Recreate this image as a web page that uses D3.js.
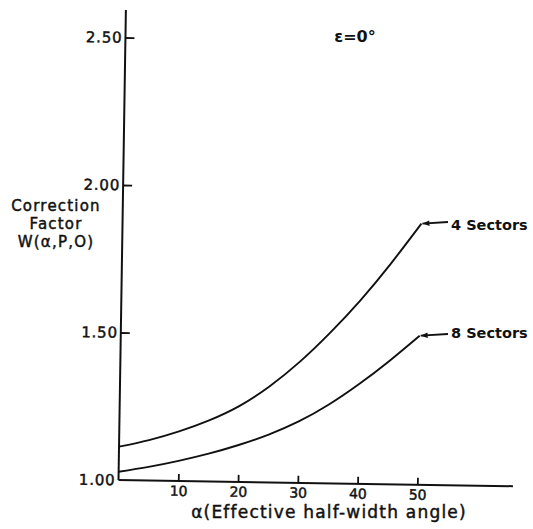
<!DOCTYPE html>
<html>
<head>
<meta charset="utf-8">
<script src="https://cdn.jsdelivr.net/npm/d3@7"></script>
<style>
  html, body { margin: 0; padding: 0; background: #fff; }
  svg { display: block; }
  text { font-family: "DejaVu Sans", sans-serif; fill: #111; }
  .heavy { stroke: #111; stroke-width: 0.45px; }
</style>
</head>
<body>
<svg id="chart" width="533" height="529"></svg>
<script>
// Effective half-width angle (degrees)
const angles = [0, 5, 10, 15, 20, 25, 30, 35, 40, 45, 50];
// Correction factor W(α,P,0) for each sector count
const fourSectors  = [1.113, 1.137, 1.168, 1.207, 1.257, 1.325, 1.41, 1.51, 1.622, 1.748, 1.885];
const eightSectors = [1.028, 1.046, 1.068, 1.094, 1.125, 1.162, 1.208, 1.267, 1.338, 1.418, 1.505];
const seriesNames = ["4 Sectors", "8 Sectors"];
const xTicks = [10, 20, 30, 40, 50];
const yTicks = [1.00, 1.50, 2.00, 2.50];

const svg = d3.select("#chart");
const ox = 118.5, oy = 480;          // plot origin
const tilt = 0.9;                    // slight clockwise tilt of the whole plate

const x = d3.scaleLinear().domain([0, 66]).range([ox, 513]);
const y = d3.scaleLinear().domain([1, 2.593]).range([oy, 10]);

// rotate a point of the plot frame into page coordinates
const th = tilt * Math.PI / 180;
function toPage(px, py) {
  const dx = px - ox, dy = py - oy;
  return [ox + dx * Math.cos(th) - dy * Math.sin(th),
          oy + dx * Math.sin(th) + dy * Math.cos(th)];
}

const plot = svg.append("g").attr("transform", `rotate(${tilt},${ox},${oy})`);

// x axis: ticks point up into the plot
const xAxis = plot.append("g")
  .attr("transform", `translate(0,${oy})`)
  .call(d3.axisBottom(x).tickValues(xTicks).tickSizeInner(-7).tickSizeOuter(0).tickPadding(5)
          .tickFormat(d3.format("d")));
xAxis.select(".domain").attr("stroke", "#111").attr("stroke-width", 2)
  .attr("d", `M${ox},0H${x(66)}`);
xAxis.selectAll(".tick line").attr("stroke", "#111").attr("stroke-width", 1.8);
xAxis.selectAll(".tick text").attr("font-size", 14).attr("fill", "#111")
  .attr("class", "heavy").style("font-family", "DejaVu Sans");

// y axis: ticks point right into the plot
const yAxis = plot.append("g")
  .attr("transform", `translate(${ox},0)`)
  .call(d3.axisLeft(y).tickValues(yTicks).tickSizeInner(-9).tickSizeOuter(0).tickPadding(3)
          .tickFormat(d3.format(".2f")));
yAxis.select(".domain").attr("stroke", "#111").attr("stroke-width", 2)
  .attr("d", `M0,${oy}V${y(2.593)}`);
yAxis.selectAll(".tick line").attr("stroke", "#111").attr("stroke-width", 1.8)
  .filter(d => d === 1).remove();
yAxis.selectAll(".tick text").attr("font-size", 15).attr("fill", "#111")
  .attr("letter-spacing", 0.8).attr("class", "heavy").style("font-family", "DejaVu Sans");

// curves
const line = d3.line().x(d => x(d[0])).y(d => y(d[1])).curve(d3.curveNatural);
const series = [fourSectors, eightSectors];
series.forEach(vals => {
  plot.append("path")
    .datum(angles.map((a, i) => [a, vals[i]]))
    .attr("fill", "none").attr("stroke", "#111").attr("stroke-width", 1.9)
    .attr("d", line);
});

// arrowhead
svg.append("defs").append("marker")
  .attr("id", "head").attr("viewBox", "0 0 10 10").attr("refX", 10).attr("refY", 5)
  .attr("markerWidth", 10).attr("markerHeight", 7).attr("markerUnits", "userSpaceOnUse")
  .attr("orient", "auto")
  .append("path").attr("d", "M0,1L10,5L0,9Z").attr("fill", "#111");

// series labels with arrows to the curve ends
const labelPos = [[451, 230, 448, 222], [451, 338, 448, 334]];
series.forEach((vals, i) => {
  const last = vals.length - 1;
  const tip = toPage(x(angles[last]), y(vals[last]));
  const [tx, ty, ax, ay] = labelPos[i];
  svg.append("line")
    .attr("x1", ax).attr("y1", ay).attr("x2", tip[0] + 1).attr("y2", tip[1])
    .attr("stroke", "#111").attr("stroke-width", 1.8).attr("marker-end", "url(#head)");
  svg.append("text").attr("x", tx).attr("y", ty)
    .attr("font-size", 14.5).attr("font-weight", "bold")
    .text(seriesNames[i]);
});

// condition note
svg.append("text").attr("x", 355).attr("y", 42).attr("text-anchor", "middle")
  .attr("font-size", 16).attr("font-weight", "bold").text("ε=0°");

// y axis title
const yTitle = ["Correction", "Factor", "W(α,P,O)"];
const yTitleBase = [211, 229, 247];
yTitle.forEach((t, i) => {
  svg.append("text").attr("x", 56).attr("y", yTitleBase[i]).attr("text-anchor", "middle")
    .attr("font-size", 15).attr("letter-spacing", 1.2).attr("class", "heavy").text(t);
});

// x axis title
svg.append("text").attr("x", 329).attr("y", 518).attr("text-anchor", "middle")
  .attr("font-size", 17).attr("letter-spacing", 1.2).attr("class", "heavy")
  .text("α(Effective half-width angle)");
</script>
</body>
</html>
